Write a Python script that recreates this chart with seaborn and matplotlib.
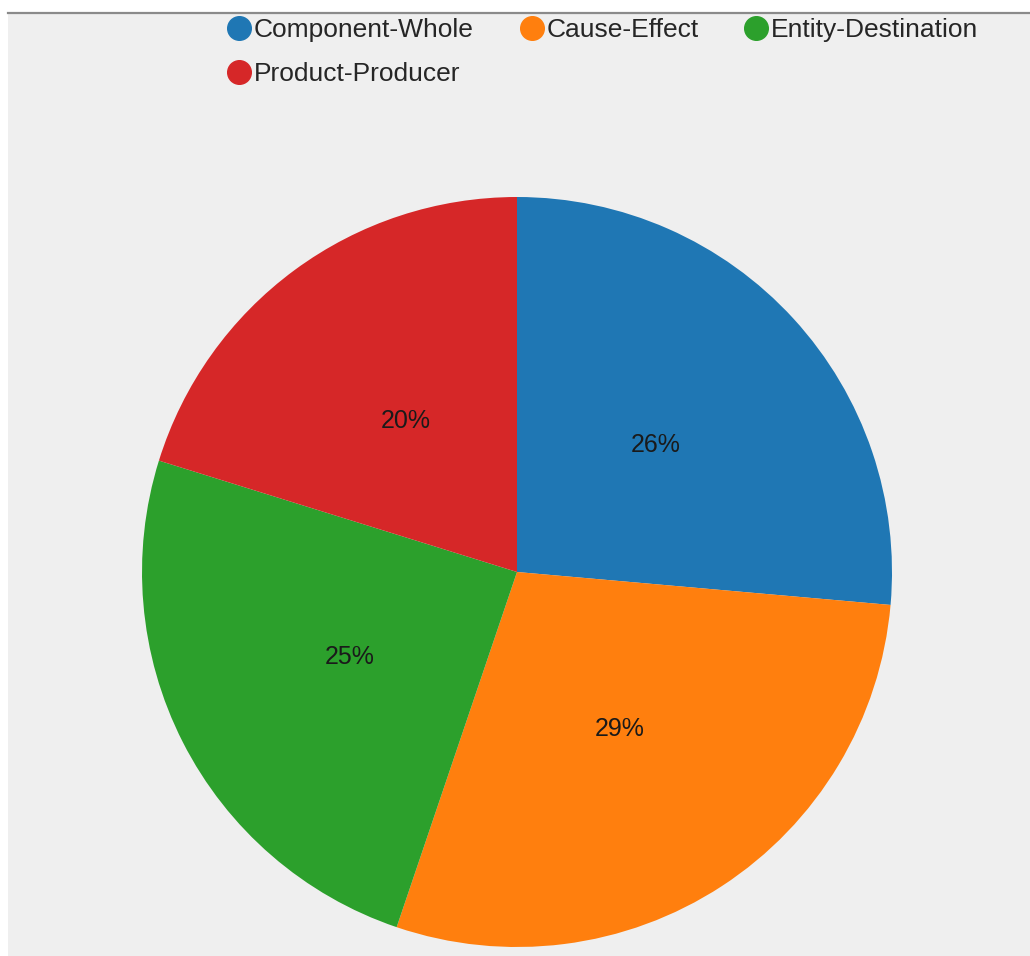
import numpy as np
import matplotlib
matplotlib.use("Agg")
import matplotlib.pyplot as plt
import seaborn as sns
from matplotlib.lines import Line2D

relations = ["Component-Whole", "Cause-Effect", "Entity-Destination", "Product-Producer"]
shares = [26.4, 28.8, 24.6, 20.2]

sns.set_theme(style="white")
plt.rcParams['font.family'] = ['Liberation Sans', 'DejaVu Sans']
colors = sns.color_palette("tab10", 4)

fig = plt.figure(figsize=(10.3, 9.56), dpi=100)
fig.patch.set_facecolor("white")

# grey panel with a line on top
bg = fig.add_axes([8/1030, 0, 1 - 8/1030, 1 - 13/956])
bg.set_facecolor("#efefef")
bg.set_xticks([])
bg.set_yticks([])
for s in ["left", "right", "bottom"]:
    bg.spines[s].set_visible(False)
bg.spines["top"].set_color("#8a8a8a")
bg.spines["top"].set_linewidth(1.6)

ax = fig.add_axes([142/1030, 9/956, 750/1030, 750/956])
ax.pie(shares, colors=colors, startangle=90, counterclock=False,
       autopct='%.0f%%', pctdistance=0.5,
       textprops={"fontsize": 18, "color": "#1a1a1a"},
       wedgeprops={"linewidth": 0})
ax.set_xlim(-1, 1)
ax.set_ylim(-1, 1)
ax.set_aspect("equal")
ax.axis("off")

handles = [Line2D([], [], marker="o", linestyle="", markersize=17,
                  markerfacecolor=c, markeredgecolor=c) for c in colors]
# legend fills column by column, so reorder to get row-wise layout
order = [0, 3, 1, 2]
fig.legend([handles[i] for i in order], [relations[i] for i in order],
           loc="upper left", bbox_to_anchor=(226/1030, 1 - 18/956), ncol=3,
           frameon=False, fontsize=19, handlelength=1.0, handletextpad=0.05,
           columnspacing=1.7, labelspacing=0.75, borderpad=0,
           borderaxespad=0)

fig.savefig("out.png", dpi=100)
